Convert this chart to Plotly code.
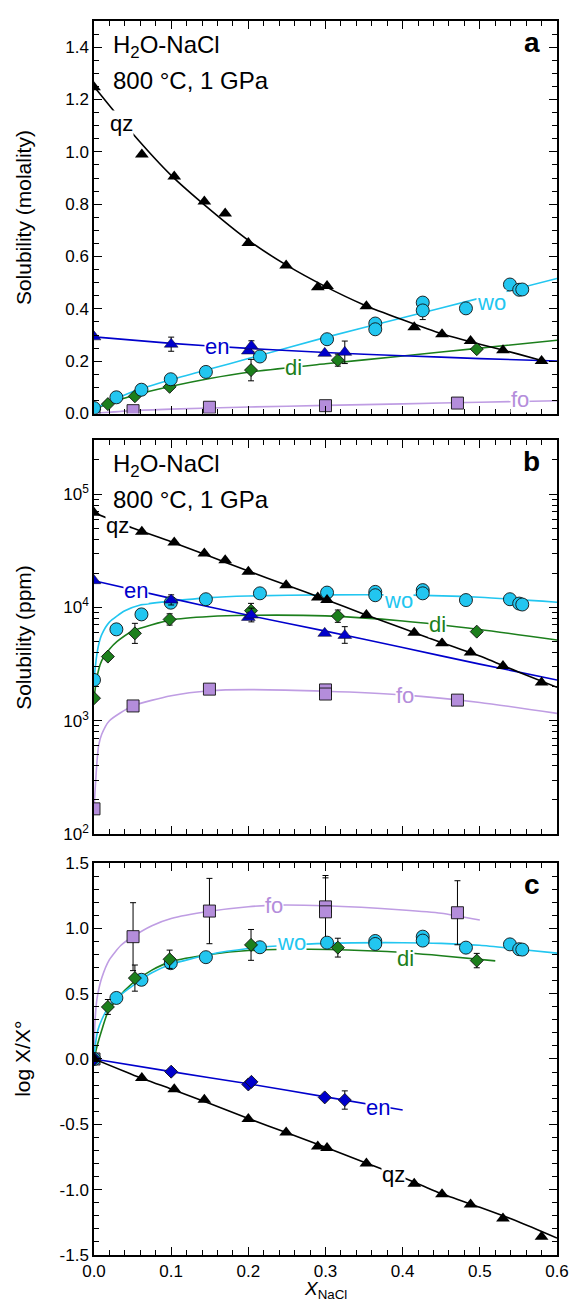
import plotly.graph_objects as go

# ---------------- colours ----------------
C_QZ = "#000000"
C_EN = "#0000CC"
C_WO = "#22C6F0"
C_DI = "#1C7F1C"
C_FO = "#B48DDB"
C_FO_LINE = "#BF9DE3"

# ================= PANEL A (molality) =================
qz_x_a = [0, 0.062, 0.104, 0.143, 0.170, 0.200, 0.249, 0.290, 0.302, 0.353, 0.415, 0.451, 0.488, 0.530, 0.580]
qz_y_a = [1.247, 0.99, 0.906, 0.81, 0.764, 0.652, 0.566, 0.483, 0.487, 0.41, 0.33, 0.303, 0.277, 0.242, 0.201]
en_x = [0, 0.1, 0.2, 0.204, 0.299, 0.325]
en_y_a = [0.293, 0.265, 0.239, 0.258, 0.23, 0.234]
en_err_a = [0, 0.027, 0, 0.02, 0, 0.043]
wo_x = [0, 0.029, 0.0615, 0.0995, 0.145, 0.215, 0.302, 0.3645, 0.3645, 0.426, 0.426, 0.482, 0.539, 0.551, 0.555]
wo_y_a = [0.021, 0.062, 0.091, 0.131, 0.159, 0.218, 0.284, 0.344, 0.322, 0.424, 0.394, 0.402, 0.493, 0.473, 0.474]
wo_errm_a = [0, 0, 0, 0, 0, 0, 0, 0, 0, 0, 0.035, 0, 0, 0, 0]
di_x = [0, 0.018, 0.053, 0.098, 0.2035, 0.316, 0.496]
di_y_a = [0.015, 0.036, 0.066, 0.102, 0.166, 0.204, 0.246]
di_err_a = [0, 0, 0, 0, 0.041, 0.023, 0]
fo_x_a = [0, 0.0506, 0.1496, 0.3, 0.471]
fo_y_a = [0.0015, 0.011, 0.024, 0.03, 0.04]

# fitted curves, panel a
qzc_x_a = [0, 0.05, 0.1, 0.15, 0.2, 0.25, 0.3, 0.35, 0.4, 0.45, 0.5, 0.55, 0.58]
qzc_y_a = [1.25, 1.07, 0.91, 0.78, 0.662, 0.566, 0.485, 0.415, 0.358, 0.305, 0.265, 0.227, 0.203]
enc_x_a = [0, 0.1, 0.2, 0.3, 0.4, 0.5, 0.6]
enc_y_a = [0.293, 0.268, 0.249, 0.233, 0.221, 0.21, 0.201]
woc_x_a = [0, 0.02, 0.05, 0.1, 0.15, 0.2, 0.3, 0.4, 0.5, 0.6]
woc_y_a = [0.018, 0.045, 0.083, 0.13, 0.17, 0.21, 0.291, 0.366, 0.441, 0.516]
dic_x_a = [0, 0.02, 0.05, 0.1, 0.15, 0.2, 0.3, 0.4, 0.5, 0.6]
dic_y_a = [0.015, 0.04, 0.068, 0.104, 0.134, 0.158, 0.19, 0.22, 0.25, 0.28]
foc_x_a = [0, 0.05, 0.1, 0.2, 0.3, 0.4, 0.5, 0.6]
foc_y_a = [0.0, 0.011, 0.017, 0.025, 0.031, 0.037, 0.043, 0.049]

# ================= PANEL B (ppm) =================
qz_ppm = [68200, 46400, 37400, 29900, 26100, 20600, 15700, 12200, 11600, 8550, 5980, 4820, 3990, 3040, 2170]
en_ppm = [17200, 11600, 8160, 8550, 5900, 5660]
en_ppm_errp = [0, 1300, 0, 1300, 0, 1100]
en_ppm_errm = [0, 1100, 0, 1100, 0, 840]
wo_ppm = [2290, 6400, 8670, 11000, 11800, 13300, 13500, 13700, 12800, 14200, 13300, 11600, 11800, 10800, 10600]
di_ppm = [1580, 3680, 5900, 7830, 9350, 8380, 6110]
di_ppm_errp = [0, 0, 1330, 950, 1500, 1100, 0]
di_ppm_errm = [0, 0, 1090, 850, 1300, 1000, 0]
fo_x_bc = [0, 0.0506, 0.1496, 0.3, 0.3, 0.471]
fo_ppm = [167, 1350, 1900, 1870, 1720, 1520]

qzc_x_b = [0, 0.05, 0.1, 0.15, 0.2, 0.25, 0.3, 0.35, 0.4, 0.45, 0.5, 0.55, 0.6]
qzc_ppm = [68200, 50100, 38000, 28200, 20900, 15700, 11750, 8710, 6530, 4900, 3720, 2690, 1970]
enc_x_b = [0, 0.1, 0.2, 0.3, 0.4, 0.5, 0.6]
enc_ppm = [17200, 12000, 8510, 6170, 4420, 3160, 2290]
woc_x_b = [0, 0.003, 0.006, 0.01, 0.02, 0.04, 0.06, 0.1, 0.15, 0.2, 0.3, 0.4, 0.5, 0.6]
woc_ppm = [2290, 3550, 4680, 5750, 7410, 9330, 10500, 11350, 12200, 12600, 12900, 12900, 12300, 11100]
dic_x_b = [0, 0.003, 0.006, 0.01, 0.02, 0.03, 0.05, 0.1, 0.15, 0.2, 0.3, 0.4, 0.5, 0.6]
dic_ppm = [1580, 2240, 2820, 3390, 4270, 5010, 6170, 7760, 8320, 8510, 8410, 7590, 6380, 5150]
foc_x_b = [0, 0.002, 0.004, 0.006, 0.01, 0.02, 0.05, 0.1, 0.15, 0.2, 0.3, 0.4, 0.5, 0.6]
foc_ppm = [167, 282, 447, 603, 759, 1000, 1350, 1660, 1840, 1880, 1820, 1690, 1450, 1160]

# ================= PANEL C (log X/X°) =================
qz_x_c = [0, 0.062, 0.104, 0.143, 0.200, 0.249, 0.290, 0.302, 0.353, 0.415, 0.451, 0.488, 0.530, 0.580]
qz_y_c = [0, -0.145, -0.231, -0.312, -0.459, -0.563, -0.67, -0.682, -0.80, -0.954, -1.035, -1.113, -1.22, -1.36]
en_y_c = [0, -0.097, -0.195, -0.175, -0.294, -0.314]
en_err_c = [0, 0.02, 0, 0, 0, 0.07]
wo_y_c = [0, 0.467, 0.606, 0.733, 0.779, 0.855, 0.89, 0.903, 0.88, 0.936, 0.906, 0.852, 0.877, 0.84, 0.837]
di_y_c = [0, 0.398, 0.619, 0.763, 0.873, 0.852, 0.753]
di_err_c = [0, 0.057, 0.1, 0.07, 0.118, 0.072, 0.055]
fo_y_c = [0, 0.936, 1.132, 1.164, 1.126, 1.119]
fo_err_c = [0, 0.26, 0.25, 0.24, 0.26, 0.245]

qzc_x_c = [0, 0.05, 0.1, 0.15, 0.2, 0.25, 0.3, 0.35, 0.4, 0.45, 0.5, 0.55, 0.6]
qzc_y_c = [0, -0.12, -0.23, -0.34, -0.455, -0.565, -0.675, -0.79, -0.905, -1.03, -1.135, -1.245, -1.37]
enc_x_c = [0, 0.1, 0.2, 0.3, 0.4]
enc_y_c = [0, -0.097, -0.19, -0.29, -0.39]
woc_x_c = [0, 0.002, 0.005, 0.01, 0.02, 0.03, 0.05, 0.075, 0.1, 0.15, 0.2, 0.25, 0.3, 0.4, 0.45, 0.5, 0.55, 0.6]
woc_y_c = [0, 0.12, 0.22, 0.3, 0.41, 0.47, 0.56, 0.66, 0.725, 0.8, 0.845, 0.87, 0.885, 0.89, 0.885, 0.87, 0.84, 0.81]
dic_x_c = [0, 0.002, 0.005, 0.01, 0.018, 0.03, 0.05, 0.075, 0.1, 0.15, 0.2, 0.28, 0.38, 0.45, 0.52]
dic_y_c = [0, 0.05, 0.12, 0.22, 0.36, 0.46, 0.58, 0.68, 0.745, 0.8, 0.83, 0.84, 0.822, 0.79, 0.751]
foc_x_c = [0, 0.001, 0.003, 0.005, 0.01, 0.02, 0.035, 0.05, 0.075, 0.1, 0.15, 0.2, 0.235, 0.3, 0.4, 0.45, 0.5]
foc_y_c = [0, 0.25, 0.42, 0.5, 0.62, 0.76, 0.87, 0.935, 1.02, 1.075, 1.13, 1.165, 1.177, 1.172, 1.14, 1.115, 1.063]

# tick labels
x_tickvals = [0, 0.1, 0.2, 0.3, 0.4, 0.5, 0.6]
x_ticktext = ["0.0", "0.1", "0.2", "0.3", "0.4", "0.5", "0.6"]
a_tickvals = [0, 0.2, 0.4, 0.6, 0.8, 1.0, 1.2, 1.4]
a_ticktext = ["0.0", "0.2", "0.4", "0.6", "0.8", "1.0", "1.2", "1.4"]
b_tickvals = [100, 1000, 10000, 100000]
b_ticktext = ["10<sup>2</sup>", "10<sup>3</sup>", "10<sup>4</sup>", "10<sup>5</sup>"]
c_tickvals = [-1.5, -1.0, -0.5, 0.0, 0.5, 1.0, 1.5]
c_ticktext = ["-1.5", "-1.0", "-0.5", "0.0", "0.5", "1.0", "1.5"]

FONT = "Liberation Sans, Arial, Helvetica, sans-serif"

fig = go.Figure()


def add_curve(x, y, color, xa, ya, width=1.6):
    fig.add_trace(go.Scatter(x=x, y=y, mode="lines",
                             line=dict(color=color, width=width, shape="spline", smoothing=0.6),
                             xaxis=xa, yaxis=ya, showlegend=False, hoverinfo="skip"))


def add_pts(x, y, symbol, color, size, xa, ya, err=None, errm=None, outline=0.9):
    ey = None
    if err is not None or errm is not None:
        ey = dict(type="data", color="black", thickness=1, width=3, visible=True)
        if err is not None:
            ey["array"] = err
        else:
            ey["array"] = [0] * len(y)
        if errm is not None:
            ey["arrayminus"] = errm
            ey["symmetric"] = False
    fig.add_trace(go.Scatter(x=x, y=y, mode="markers",
                             marker=dict(symbol=symbol, color=color, size=size,
                                         line=dict(color="#111111", width=outline)),
                             error_y=ey, xaxis=xa, yaxis=ya, showlegend=False))


# ---- curves ----
add_curve(foc_x_a, foc_y_a, C_FO_LINE, "x", "y")
add_curve(dic_x_a, dic_y_a, C_DI, "x", "y")
add_curve(woc_x_a, woc_y_a, C_WO, "x", "y")
add_curve(enc_x_a, enc_y_a, C_EN, "x", "y")
add_curve(qzc_x_a, qzc_y_a, C_QZ, "x", "y")

add_curve(foc_x_b, foc_ppm, C_FO_LINE, "x2", "y2")
add_curve(dic_x_b, dic_ppm, C_DI, "x2", "y2")
add_curve(woc_x_b, woc_ppm, C_WO, "x2", "y2")
add_curve(enc_x_b, enc_ppm, C_EN, "x2", "y2")
add_curve(qzc_x_b, qzc_ppm, C_QZ, "x2", "y2")

add_curve(foc_x_c, foc_y_c, C_FO_LINE, "x3", "y3")
add_curve(dic_x_c, dic_y_c, C_DI, "x3", "y3")
add_curve(woc_x_c, woc_y_c, C_WO, "x3", "y3")
add_curve(enc_x_c, enc_y_c, C_EN, "x3", "y3")
add_curve(qzc_x_c, qzc_y_c, C_QZ, "x3", "y3")

# ---- markers ----
TRI, CIR, SQ, DIA = 12, 13, 12, 10
add_pts(fo_x_a, fo_y_a, "square", C_FO, SQ, "x", "y")
add_pts(di_x, di_y_a, "diamond", C_DI, DIA, "x", "y", err=di_err_a)
add_pts(wo_x, wo_y_a, "circle", C_WO, CIR, "x", "y", err=[0] * len(wo_x), errm=wo_errm_a)
add_pts(en_x, en_y_a, "triangle-up", C_EN, TRI, "x", "y", err=en_err_a, outline=0.5)
add_pts(qz_x_a, qz_y_a, "triangle-up", C_QZ, TRI, "x", "y", outline=0)

add_pts(fo_x_bc, fo_ppm, "square", C_FO, SQ, "x2", "y2")
add_pts(di_x, di_ppm, "diamond", C_DI, DIA, "x2", "y2", err=di_ppm_errp, errm=di_ppm_errm)
add_pts(wo_x, wo_ppm, "circle", C_WO, CIR, "x2", "y2")
add_pts(en_x, en_ppm, "triangle-up", C_EN, TRI, "x2", "y2", err=en_ppm_errp, errm=en_ppm_errm, outline=0.5)
add_pts(qz_x_a, qz_ppm, "triangle-up", C_QZ, TRI, "x2", "y2", outline=0)

add_pts(fo_x_bc, fo_y_c, "square", C_FO, SQ, "x3", "y3", err=fo_err_c)
add_pts(wo_x, wo_y_c, "circle", C_WO, CIR, "x3", "y3")
add_pts(di_x, di_y_c, "diamond", C_DI, DIA, "x3", "y3", err=di_err_c)
add_pts(en_x, en_y_c, "diamond", C_EN, DIA, "x3", "y3", err=en_err_c)
add_pts(qz_x_c, qz_y_c, "triangle-up", C_QZ, TRI, "x3", "y3", outline=0)

# ---- axes ----
tickfont = dict(family=FONT, size=17, color="black")
common = dict(showline=True, linecolor="black", linewidth=1.5, mirror="ticks",
              ticks="inside", ticklen=8, tickwidth=1.2, tickcolor="black",
              showgrid=False, zeroline=False, tickfont=tickfont)

xcommon = dict(common, range=[0, 0.6], tickvals=x_tickvals, ticktext=x_ticktext,
               minor=dict(dtick=0.02, tick0=0, ticks="inside", ticklen=5, tickwidth=1, tickcolor="black"))

dom_a = [0.6819, 1.0]
dom_b = [0.3411, 0.6605]
dom_c = [0.0, 0.3177]

b_minor = []
for dec in [100, 1000, 10000, 100000]:
    for m in range(2, 10):
        v = dec * m
        if v <= 300000:
            b_minor.append(v)

fig.update_layout(
    width=581, height=1307,
    margin=dict(l=94, r=12, t=15, b=52),
    paper_bgcolor="white", plot_bgcolor="white",
    font=dict(family=FONT, color="black"),
    showlegend=False,
    xaxis=dict(xcommon, anchor="y", domain=[0, 1], showticklabels=False),
    xaxis2=dict(xcommon, anchor="y2", domain=[0, 1], showticklabels=False),
    xaxis3=dict(xcommon, anchor="y3", domain=[0, 1], showticklabels=True),
    yaxis=dict(common, anchor="x", domain=dom_a, range=[0, 1.5],
               tickvals=a_tickvals, ticktext=a_ticktext,
               minor=dict(dtick=0.05, tick0=0, ticks="inside", ticklen=5, tickwidth=1, tickcolor="black")),
    yaxis2=dict(common, anchor="x2", domain=dom_b, type="log", range=[2, 5.4771],
                tickvals=b_tickvals, ticktext=b_ticktext,
                minor=dict(tickmode="array", tickvals=b_minor, ticks="inside", ticklen=5, tickwidth=1, tickcolor="black")),
    yaxis3=dict(common, anchor="x3", domain=dom_c, range=[-1.5, 1.5],
                tickvals=c_tickvals, ticktext=c_ticktext,
                minor=dict(dtick=0.1, tick0=0, ticks="inside", ticklen=5, tickwidth=1, tickcolor="black")),
)

# ---- annotations ----
ann = []
LBL = 22


def curve_label(text, x, y, color, xa, ya):
    ann.append(dict(text=text, x=x, y=y, xref=xa, yref=ya, showarrow=False,
                    font=dict(family=FONT, size=LBL, color=color),
                    bgcolor="white", borderpad=0, xanchor="center", yanchor="middle"))


curve_label("qz", 0.035, 1.109, C_QZ, "x", "y")
curve_label("en", 0.159, 0.258, C_EN, "x", "y")
curve_label("wo", 0.515, 0.424, C_WO, "x", "y")
curve_label("di", 0.258, 0.176, C_DI, "x", "y")
curve_label("fo", 0.552, 0.052, C_FO, "x", "y")

curve_label("qz", 0.030, 4.72, C_QZ, "x2", "y2")
curve_label("en", 0.054, 4.152, C_EN, "x2", "y2")
curve_label("wo", 0.394, 4.064, C_WO, "x2", "y2")
curve_label("di", 0.445, 3.853, C_DI, "x2", "y2")
curve_label("fo", 0.403, 3.219, C_FO, "x2", "y2")

curve_label("fo", 0.233, 1.177, C_FO, "x3", "y3")
curve_label("wo", 0.256, 0.89, C_WO, "x3", "y3")
curve_label("di", 0.404, 0.771, C_DI, "x3", "y3")
curve_label("en", 0.368, -0.37, C_EN, "x3", "y3")
curve_label("qz", 0.388, -0.885, C_QZ, "x3", "y3")

for xa, ya in [("x", "y"), ("x2", "y2")]:
    ann.append(dict(text="H<sub>2</sub>O-NaCl", x=0.036, y=0.934, xref=xa + " domain",
                    yref=ya + " domain", showarrow=False, xanchor="left", yanchor="middle",
                    font=dict(family=FONT, size=24, color="black")))
    ann.append(dict(text="800 °C, 1 GPa", x=0.036, y=0.848, xref=xa + " domain",
                    yref=ya + " domain", showarrow=False, xanchor="left", yanchor="middle",
                    font=dict(family=FONT, size=24, color="black")))

for letter, xa, ya in [("a", "x", "y"), ("b", "x2", "y2"), ("c", "x3", "y3")]:
    ann.append(dict(text="<b>%s</b>" % letter, x=0.945, y=0.945, xref=xa + " domain", yref=ya + " domain",
                    showarrow=False, xanchor="center", yanchor="middle",
                    font=dict(family=FONT, size=28, color="black")))

# axis titles
ytitle_x = (21 - 94) / 475
for txt, dom in [("Solubility (molality)", dom_a), ("Solubility (ppm)", dom_b), ("log X/X°", dom_c)]:
    ann.append(dict(text=txt, x=ytitle_x, y=(dom[0] + dom[1]) / 2, xref="paper", yref="paper",
                    textangle=-90, showarrow=False, xanchor="center", yanchor="middle",
                    font=dict(family=FONT, size=21, color="black")))

ann.append(dict(text="<i>X</i><sub>NaCl</sub>", x=0.5, y=-0.0285, xref="paper", yref="paper",
                showarrow=False, xanchor="center", yanchor="middle",
                font=dict(family=FONT, size=19, color="black")))

fig.update_layout(annotations=ann)

fig.write_html("out.html", config={"displayModeBar": False},
               post_script="document.body.style.margin='0px';document.body.style.padding='0px';")
